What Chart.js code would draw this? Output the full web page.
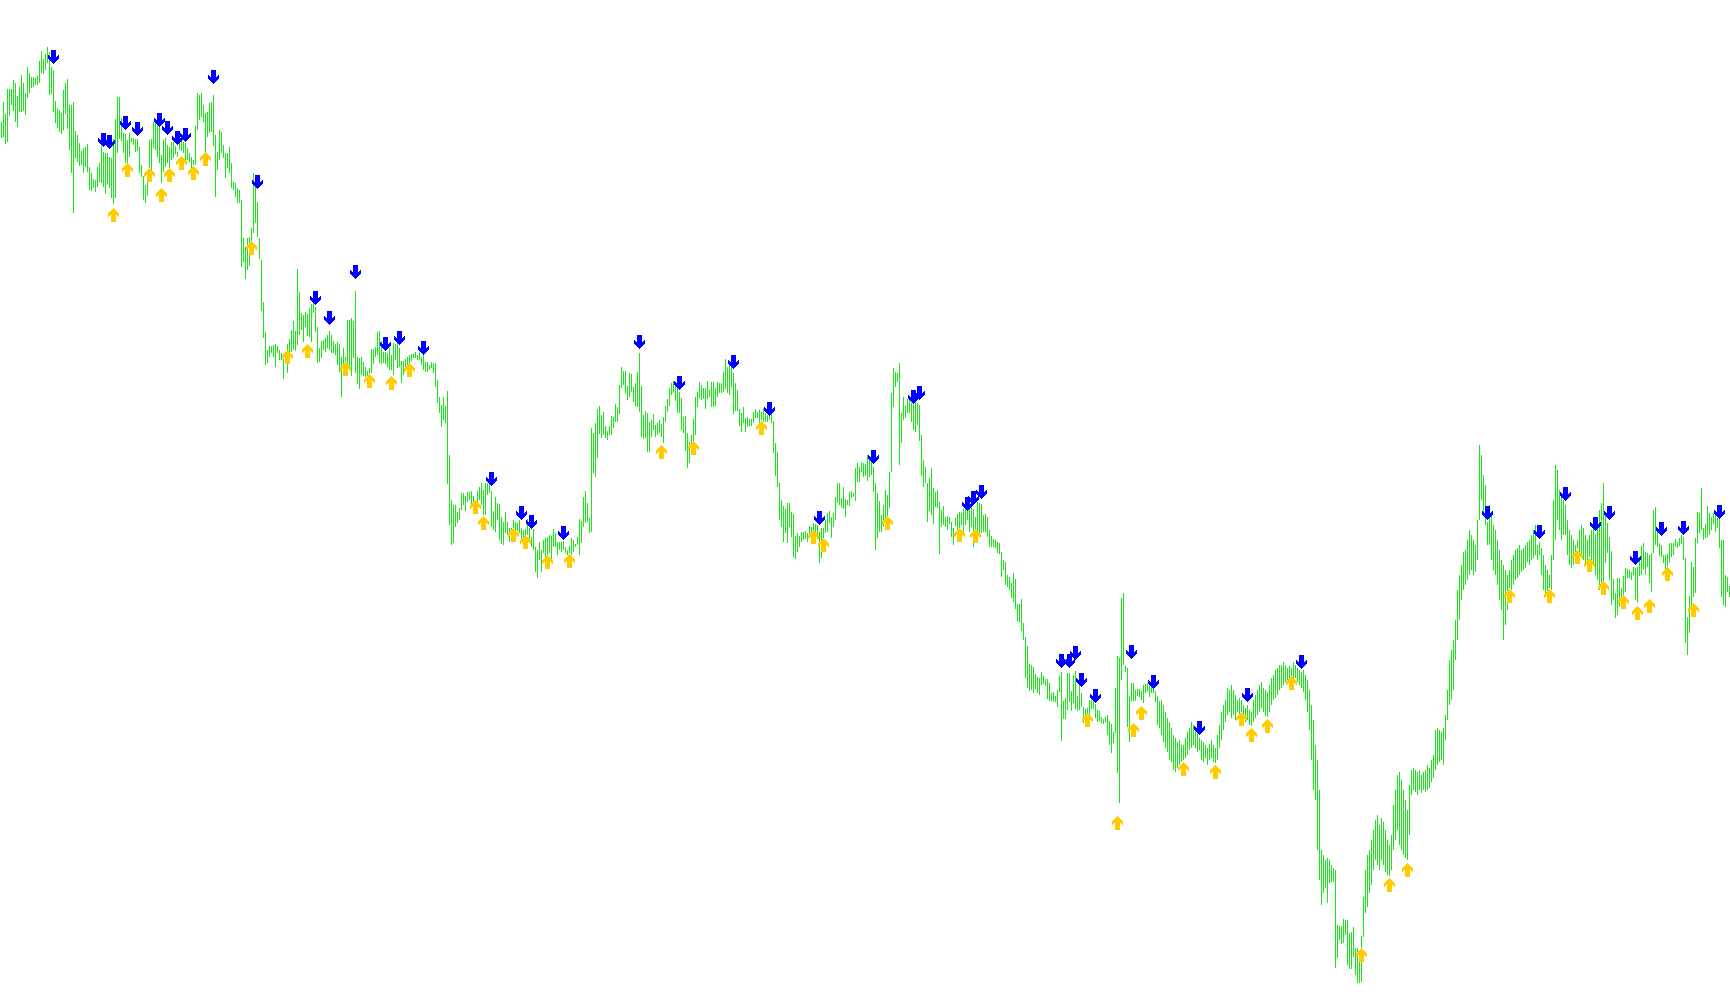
<!DOCTYPE html>
<html>
<head>
<meta charset="utf-8">
<style>
  html, body { margin: 0; padding: 0; background: #ffffff; }
  canvas { display: block; }
</style>
<script src="https://cdn.jsdelivr.net/npm/chart.js@4.4.1/dist/chart.umd.min.js"></script>
</head>
<body>
<canvas id="bars" width="1730" height="1005"></canvas>
<script>
// bar extremes (price axis runs top-down, so "high" is the smaller number)
const high = [
  122,102,114,89,89,89,80,83,96,87,75,83,93,67,73,77,77,78,76,61,51,59,54,47,52,67,70,101,108,110,113,90,83,79,105,105,102,131,135,143,151,148,147,144,167,173,179,180,167,163,146,152,153,153,157,158,139,119,97,97,118,133,134,140,133,138,138,139,139,147,165,176,
  185,175,140,139,122,122,123,127,155,140,138,145,147,142,142,146,152,140,137,142,143,148,153,157,160,126,93,95,93,105,113,112,103,102,95,135,152,130,132,145,153,153,147,163,182,183,188,190,200,238,247,238,237,228,173,178,202,238,260,302,332,350,346,346,345,344,346,350,353,359,352,344,339,
  330,321,331,269,292,313,315,312,314,308,304,292,307,327,348,341,340,338,335,331,335,341,344,342,344,357,348,357,320,320,318,321,291,357,358,357,362,367,371,368,349,349,347,332,331,341,352,352,353,348,355,343,344,342,348,361,361,359,357,355,354,354,352,355,350,357,355,362,362,365,362,363,
  363,380,397,405,397,406,391,455,500,505,505,512,508,493,493,496,492,492,491,496,500,491,487,483,490,483,483,483,491,511,497,503,504,517,522,512,522,528,528,520,522,523,520,528,530,529,519,528,537,529,547,550,542,550,540,538,537,535,536,529,533,542,542,542,541,547,550,546,538,540,544,537,519,
  521,497,491,503,518,428,433,423,409,406,415,412,426,431,426,416,417,404,407,385,367,371,371,386,373,374,387,383,372,353,386,415,411,413,422,420,414,425,423,420,424,417,406,399,388,383,381,383,382,392,398,417,416,433,442,435,419,397,392,382,385,388,388,381,390,382,382,388,382,383,383,372,
  359,367,363,362,373,383,390,409,413,407,418,417,419,419,412,409,412,410,412,408,413,415,412,412,421,443,452,483,500,506,509,503,503,512,514,536,533,536,532,532,531,533,526,527,523,524,525,532,528,528,520,513,511,517,513,497,483,483,498,487,499,500,492,491,493,468,463,467,462,463,464,455,457,
  460,467,483,493,501,515,505,490,495,472,393,368,372,373,363,413,397,406,399,398,403,390,393,403,405,435,460,467,483,478,468,488,492,490,502,510,506,517,516,517,522,528,518,514,512,513,509,506,510,502,503,509,517,502,503,504,515,514,517,530,536,539,540,542,543,552,560,562,575,577,583,573,
  579,604,604,599,623,637,646,664,665,667,674,677,678,672,676,679,679,683,693,692,696,690,676,672,701,698,673,673,691,675,671,696,683,693,707,709,708,700,700,700,704,710,711,717,719,717,715,721,724,732,688,656,658,598,593,666,668,696,683,683,690,689,689,691,685,684,683,685,680,686,691,696,701,
  700,705,712,718,722,728,735,738,742,740,745,745,738,732,728,722,725,728,730,738,740,742,745,748,744,740,745,748,735,725,712,705,700,688,690,685,690,695,700,698,
  700,705,708,705,710,712,700,695,690,685,682,688,690,692,685,678,675,670,668,665,665,662,665,668,666,668,662,665,668,670,672,670,675,680,690,705,720,745,760,790,
  850,855,860,858,860,865,868,870,925,926,926,919,920,920,933,932,927,948,948,952,936,897,870,855,850,840,830,820,815,825,818,822,830,840,845,835,805,790,775,772,
  780,790,800,810,785,770,768,770,772,770,775,772,770,765,768,760,755,730,728,730,732,728,715,690,660,650,640,620,590,575,565,552,550,540,530,535,540,545,520,445,
  455,475,485,522,505,515,525,530,540,550,560,565,570,575,570,560,555,550,548,545,550,548,545,542,540,535,530,525,545,542,548,555,565,570,575,555,500,465,470,490,
  495,500,505,520,530,535,540,545,540,530,525,528,535,540,535,530,528,534,520,510,
  503,483,515,523,537,551,579,593,578,578,588,576,568,569,570,572,567,568,567,557,546,543,552,553,555,553,510,507,532,543,545,555,555,554,543,543,543,539,542,538,535,537,558,617,596,562,567,538,512,513,488,528,524,506,513,517,513,513,518,512,540,540,575,577,586
];
const low = [
  138,137,144,142,116,105,111,122,127,112,112,111,115,98,93,88,87,85,85,83,73,74,70,63,95,94,112,123,128,132,134,130,114,129,150,173,213,158,162,166,165,173,167,172,190,191,188,192,187,182,183,187,194,185,188,198,204,198,153,139,141,153,163,163,157,142,145,152,151,173,177,200,
  203,196,168,170,148,150,157,163,183,172,167,163,172,160,158,154,157,150,151,153,160,160,162,168,165,165,130,120,117,122,153,137,133,132,146,197,170,160,153,158,178,168,173,188,190,197,203,203,267,262,279,270,266,250,233,223,237,259,311,338,365,363,357,353,357,367,353,360,360,379,363,373,352,
  352,350,351,345,335,330,342,327,336,337,342,313,332,363,362,358,350,352,348,350,353,353,355,365,372,397,367,368,375,370,376,358,373,384,389,375,376,377,376,378,373,364,357,355,363,364,363,364,367,370,370,375,360,368,367,383,375,370,367,365,361,358,358,360,360,365,370,372,372,370,368,373,
  387,403,413,427,420,423,484,525,545,543,527,523,520,510,505,511,502,500,508,510,508,505,500,505,515,515,495,493,527,530,532,520,540,544,545,533,535,542,538,537,533,531,533,540,543,544,535,542,547,550,572,578,560,572,553,567,562,553,563,547,547,555,550,552,550,553,555,553,555,552,547,545,555,
  543,527,523,522,533,532,473,477,458,434,438,435,438,440,435,435,428,422,422,414,388,385,393,400,397,392,402,406,407,412,437,439,438,452,452,437,430,437,435,433,437,443,422,412,406,395,393,401,413,413,430,433,451,468,463,446,442,435,407,398,400,399,409,399,397,407,407,406,397,393,393,392,
  389,393,395,387,414,411,411,426,432,423,432,427,426,426,423,418,418,423,420,422,422,422,420,423,453,476,487,520,527,542,533,543,527,537,557,559,552,547,542,540,539,542,535,537,534,532,539,563,558,538,533,532,523,538,527,520,503,505,508,509,517,505,506,498,497,501,482,482,472,477,476,481,477,
  475,492,550,538,532,532,527,525,522,508,472,407,387,382,465,443,420,418,413,413,422,430,432,425,441,476,487,483,522,511,515,524,507,508,554,527,525,527,530,524,537,545,526,535,532,525,535,525,520,532,527,547,543,532,533,533,532,532,537,547,547,547,548,553,554,577,570,585,587,590,598,602,
  609,621,622,631,640,678,688,691,690,693,689,693,695,685,684,686,699,701,701,702,702,707,692,741,719,719,710,702,711,703,709,711,710,707,723,726,723,715,709,709,718,722,721,723,724,722,735,745,753,743,733,773,803,680,665,672,727,742,701,701,701,696,697,700,703,693,692,697,693,693,702,725,728,
  735,742,748,752,760,762,770,772,768,765,762,760,758,755,750,748,745,748,752,750,760,762,758,765,760,758,762,763,760,748,740,730,722,715,712,718,715,720,712,715,
  712,718,722,720,725,726,722,718,715,712,708,712,716,717,712,705,700,698,695,690,688,685,682,680,678,676,680,678,682,685,688,692,700,712,730,760,790,800,850,880,
  905,893,888,903,883,882,882,968,958,940,944,943,935,965,969,969,957,975,983,983,982,937,913,907,893,885,870,860,865,870,860,865,872,875,876,870,850,840,830,845,
  850,855,858,860,835,795,790,792,795,790,793,790,792,790,788,782,778,770,765,762,760,765,740,720,705,700,690,660,640,620,600,590,585,580,575,570,575,572,560,520,
  500,515,525,545,545,560,570,575,585,600,610,640,625,610,588,590,585,580,578,575,572,570,568,562,565,560,558,555,560,555,575,590,595,592,588,590,560,540,520,530,
  540,535,535,555,565,568,565,560,548,552,558,560,565,560,557,560,565,575,580,590,
  593,587,563,553,580,605,600,618,615,607,600,598,592,578,578,580,575,600,602,576,575,570,575,567,583,592,553,545,547,556,557,563,570,566,563,557,555,547,548,546,544,560,643,655,633,607,597,593,543,533,530,540,538,537,535,530,524,532,528,548,597,605,607,592,597
];

// signal arrows: bar index and level
const sellBar = [26,51,54,62,68,79,83,88,92,106,128,157,164,177,192,199,211,245,260,265,281,319,339,366,384,409,436,456,459,483,486,490,530,534,537,540,547,565,576,599,623,650,743,769,782,797,804,817,830,841,859];
const sellLevel = [57,140,142,123,129,120,128,138,135,77,182,298,318,272,344,338,348,479,513,522,533,342,383,362,409,518,457,397,393,504,498,492,661,661,653,680,696,652,682,728,695,662,513,532,494,524,513,558,529,528,512];
const buyBar = [56,63,74,80,84,90,96,102,125,143,153,172,184,195,204,237,241,256,262,273,284,330,346,380,406,411,443,479,487,543,558,566,570,591,607,620,625,633,645,680,694,703,754,774,788,794,801,811,818,824,833,846];
const buyLevel = [215,170,175,195,175,163,173,159,248,357,351,369,381,383,370,507,523,535,542,562,561,452,448,428,537,545,523,535,536,720,823,730,713,769,772,719,735,726,683,955,885,870,596,596,557,565,588,602,613,606,574,610];

// the point datasets make Chart.js keep 0.1px round the plot, so the ranges take that up
const edge = 0.1;
const xMin = -0.75 + edge / 2, xMax = high.length - 0.75 - edge / 2;
const yMin = edge, yMax = 1005 - edge;

// arrow glyph, pixel rows of an 11x14 down arrow (start col, end col)
const glyph = [
  [[3,7]],[[3,7]],[[3,7]],[[3,7]],[[3,7]],
  [[0,0],[3,7],[10,10]],[[0,1],[3,7],[9,10]],[[0,10]],[[0,10]],[[1,9]],[[2,8]],[[3,7]],[[4,6]],[[5,5]]
];

function arrowIcon(color, up) {
  const c = document.createElement('canvas');
  c.width = 11;
  c.height = glyph.length;
  const g = c.getContext('2d');
  g.fillStyle = color;
  glyph.forEach((runs, r) => {
    const row = up ? glyph.length - 1 - r : r;
    runs.forEach(([a, b]) => g.fillRect(a, row, b - a + 1, 1));
  });
  return c;
}

const markers = {
  type: 'line',
  showLine: false,
  borderWidth: 0,
  pointRadius: edge,
  pointHoverRadius: 0,
  pointBorderWidth: 0,
  order: 0
};

new Chart(document.getElementById('bars'), {
  type: 'bar',
  data: {
    datasets: [
      Object.assign({}, markers, {
        data: sellBar.map((x, k) => ({ x: x, y: sellLevel[k] })),
        pointStyle: arrowIcon('#0000ff', false)
      }),
      Object.assign({}, markers, {
        data: buyBar.map((x, k) => ({ x: x, y: buyLevel[k] })),
        pointStyle: arrowIcon('#ffcc00', true)
      }),
      {
        data: high.map((h, i) => ({ x: i, y: [low[i], h] })),
        backgroundColor: '#12ea12',
        borderWidth: 0,
        barThickness: 1,
        inflateAmount: 0,
        order: 1
      }
    ]
  },
  options: {
    responsive: false,
    animation: false,
    events: [],
    layout: { padding: 0 },
    plugins: {
      legend: { display: false },
      tooltip: { enabled: false }
    },
    scales: {
      x: {
        type: 'linear', display: false, offset: false, bounds: 'data',
        min: xMin, max: xMax,
        afterBuildTicks: (s) => { s.min = xMin; s.max = xMax; }
      },
      y: {
        type: 'linear', display: false, reverse: true, bounds: 'data',
        min: yMin, max: yMax,
        afterBuildTicks: (s) => { s.min = yMin; s.max = yMax; }
      }
    }
  }
});
</script>
</body>
</html>
